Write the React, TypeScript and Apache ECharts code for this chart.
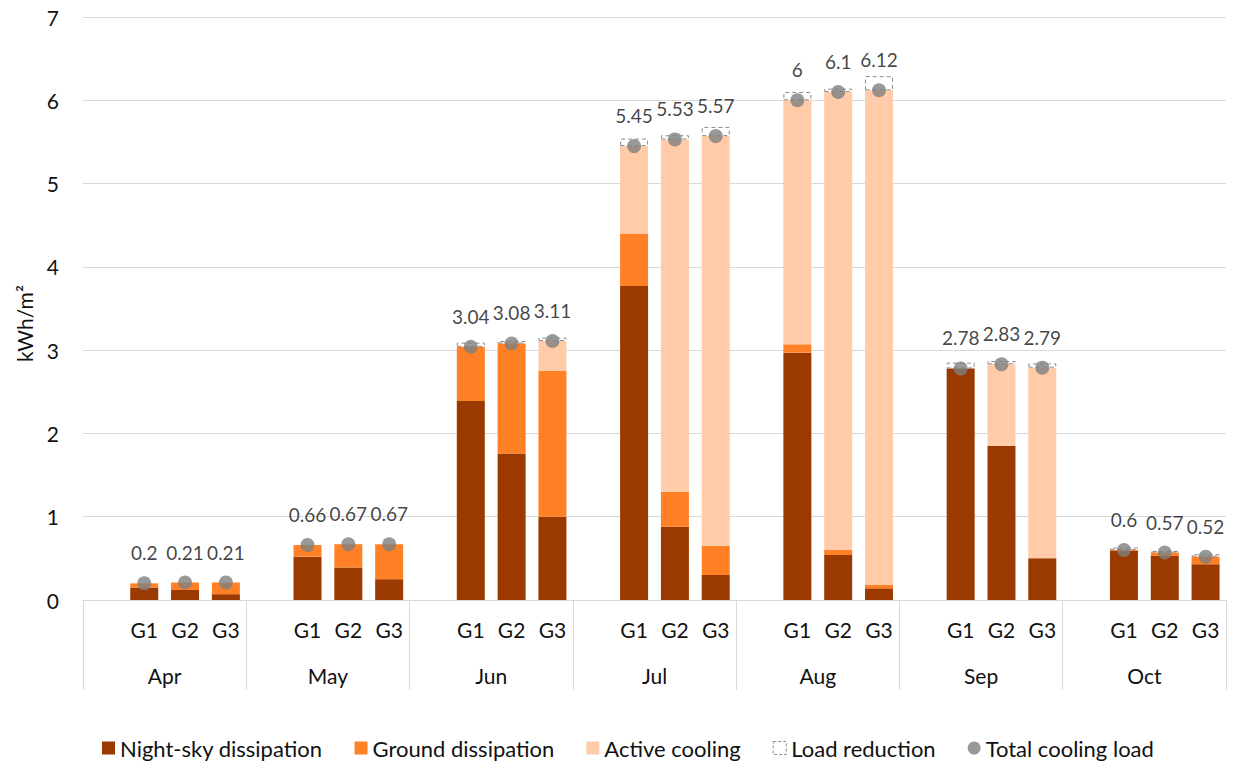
import React, { useEffect, useRef } from "react";
import * as echarts from "echarts";

// Months and system variants shown on the two-level category axis
const months = ["Apr", "May", "Jun", "Jul", "Aug", "Sep", "Oct"];
const groups = ["G1", "G2", "G3"];

// Values per month, in order G1, G2, G3 (kWh/m²)
const nightSky = [
  0.15, 0.12, 0.07,
  0.52, 0.39, 0.25,
  2.39, 1.76, 1.0,
  3.77, 0.88, 0.3,
  2.97, 0.54, 0.14,
  2.78, 1.85, 0.5,
  0.59, 0.53, 0.43,
];
const ground = [
  0.05, 0.09, 0.14,
  0.14, 0.28, 0.42,
  0.65, 1.32, 1.75,
  0.63, 0.42, 0.35,
  0.1, 0.06, 0.04,
  0, 0, 0,
  0.01, 0.04, 0.09,
];
const active = [
  0, 0, 0,
  0, 0, 0,
  0, 0, 0.36,
  1.05, 4.23, 4.92,
  2.93, 5.5, 5.94,
  0, 0.98, 2.29,
  0, 0, 0,
];
const loadReduction = [
  0, 0, 0,
  0, 0, 0,
  0.05, 0.03, 0.04,
  0.09, 0.05, 0.11,
  0.1, 0.04, 0.17,
  0.07, 0.04, 0.05,
  0.03, 0.02, 0.03,
];
const totalLoad = [
  0.2, 0.21, 0.21,
  0.66, 0.67, 0.67,
  3.04, 3.08, 3.11,
  5.45, 5.53, 5.57,
  6, 6.1, 6.12,
  2.78, 2.83, 2.79,
  0.6, 0.57, 0.52,
];
const yTicks = { min: 0, max: 7, step: 1 };

const FONT = "Lato, 'Open Sans', sans-serif";
const TEXT = "#111111";
const GRID_LINE = "#d9d9d9";
const DASH_GREY = "#8c8c8c";

// Each month occupies four slots: an empty lead slot, then G1..G3
const slotLabels: string[] = [];
months.forEach(() => {
  slotLabels.push("", ...groups);
});

function toSlots(values: number[], dropZero = false): (number | string)[] {
  const out: (number | string)[] = [];
  months.forEach((_, m) => {
    out.push("-");
    for (let g = 0; g < groups.length; g++) {
      const v = values[m * groups.length + g];
      out.push(dropZero && v === 0 ? "-" : v);
    }
  });
  return out;
}

export default function App() {
  const ref = useRef<HTMLDivElement>(null);

  useEffect(() => {
    if (!ref.current) return;
    const chart = echarts.init(ref.current, undefined, { renderer: "svg" });

    const barBase = {
      type: "bar" as const,
      stack: "load",
      barWidth: 28,
      xAxisIndex: 0,
      yAxisIndex: 0,
    };

    chart.setOption({
      animation: false,
      textStyle: { fontFamily: FONT },
      grid: { left: 83, right: 12, top: 17, bottom: 161, containLabel: false },
      legend: {
        top: 737,
        left: 102,
        padding: 0,
        itemWidth: 13,
        itemHeight: 13,
        itemGap: 32,
        textStyle: { fontSize: 22, color: TEXT, fontFamily: FONT },
        data: [
          { name: "Night-sky dissipation", icon: "rect" },
          { name: "Ground dissipation", icon: "rect" },
          { name: "Active cooling", icon: "rect" },
          {
            name: "Load reduction",
            icon: "rect",
            itemStyle: {
              color: "rgba(255,255,255,0)",
              borderColor: DASH_GREY,
              borderWidth: 1,
              borderType: [3, 2],
            },
          },
          { name: "Total cooling load", icon: "circle" },
        ],
      },
      xAxis: [
        {
          type: "category",
          data: slotLabels,
          position: "bottom",
          offset: 0,
          axisLine: { show: true, lineStyle: { color: GRID_LINE, width: 1 } },
          axisTick: { show: false },
          axisLabel: {
            interval: 0,
            margin: 19,
            fontSize: 21,
            color: TEXT,
            fontFamily: FONT,
          },
          splitLine: { show: false },
        },
        {
          type: "category",
          data: months,
          position: "bottom",
          offset: 0,
          axisLine: { show: false },
          axisTick: {
            show: true,
            interval: 0,
            length: 90,
            lineStyle: { color: GRID_LINE, width: 1 },
          },
          axisLabel: {
            interval: 0,
            margin: 65,
            fontSize: 21,
            color: TEXT,
            fontFamily: FONT,
          },
          splitLine: { show: false },
        },
      ],
      yAxis: {
        type: "value",
        min: yTicks.min,
        max: yTicks.max,
        interval: yTicks.step,
        name: "kWh/m²",
        nameLocation: "middle",
        nameGap: 48,
        nameRotate: 90,
        nameTextStyle: {
          fontSize: 21,
          color: TEXT,
          fontFamily: FONT,
          padding: [0, 30, 0, 0],
        },
        axisLine: { show: false },
        axisTick: { show: false },
        axisLabel: { margin: 24, fontSize: 21, color: TEXT, fontFamily: FONT },
        splitLine: { lineStyle: { color: GRID_LINE, width: 1 } },
      },
      series: [
        {
          ...barBase,
          name: "Night-sky dissipation",
          data: toSlots(nightSky),
          itemStyle: { color: "#9A3A00" },
        },
        {
          ...barBase,
          name: "Ground dissipation",
          data: toSlots(ground),
          itemStyle: { color: "#FF8025" },
        },
        {
          ...barBase,
          name: "Active cooling",
          data: toSlots(active),
          itemStyle: { color: "#FFCBA9" },
        },
        {
          ...barBase,
          name: "Load reduction",
          data: toSlots(loadReduction, true),
          itemStyle: {
            color: "rgba(255,255,255,0)",
            borderColor: DASH_GREY,
            borderWidth: 1,
            borderType: [4, 3],
          },
        },
        {
          type: "scatter",
          name: "Total cooling load",
          xAxisIndex: 0,
          yAxisIndex: 0,
          data: toSlots(totalLoad),
          symbol: "circle",
          symbolSize: 14,
          z: 5,
          itemStyle: { color: "#808080" },
          label: {
            show: true,
            position: "top",
            distance: 14,
            fontSize: 19,
            color: TEXT,
            fontFamily: FONT,
            formatter: (p: any) => String(p.value),
          },
        },
      ],
    });

    return () => chart.dispose();
  }, []);

  return (
    <div
      ref={ref}
      style={{ position: "absolute", left: 0, top: 0, width: 1238, height: 761 }}
    />
  );
}
